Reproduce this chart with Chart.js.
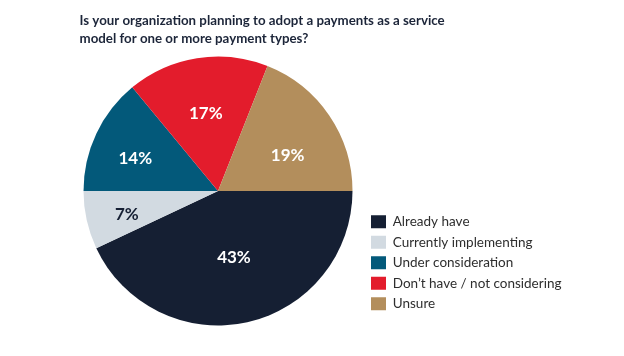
<!DOCTYPE html>
<html>
<head>
<meta charset="utf-8">
<script src="https://cdn.jsdelivr.net/npm/chart.js@4.4.1/dist/chart.umd.min.js"></script>
<style>
  html, body { margin: 0; padding: 0; background: #ffffff; }
  #wrap { position: relative; width: 624px; height: 356px; }
  canvas { display: block; }
</style>
</head>
<body>
<div id="wrap"><canvas id="c" width="624" height="356"></canvas></div>
<script>
// ---- data ----
const titleLines = [
  "Is your organization planning to adopt a payments as a service",
  "model for one or more payment types?"
];
const categories = [
  "Already have",
  "Currently implementing",
  "Under consideration",
  "Don\u2019t have / not considering",
  "Unsure"
];
const shares = [43, 7, 14, 17, 19];

// ---- styles ----
const sliceColors = ["#151f33", "#d2dae1", "#03597a", "#e31c2c", "#b38e5c"];
const labelColors = ["#ffffff", "#151f33", "#ffffff", "#ffffff", "#ffffff"];
const labelRadiusFrac = [0.505, 0.70, 0.66, 0.58, 0.58];
const labelAngleShiftDeg = [-1, -2, -4, 0, 7.5];

const FONT_FAMILY = 'Lato, "Open Sans", sans-serif';
const LEGEND_FONT_SIZE = 13.5;
const LEGEND_PAD = 7;
const BOX_W = 15;

// legend placement: boxes should start at x = 371
const measureCtx = document.createElement('canvas').getContext('2d');
measureCtx.font = LEGEND_FONT_SIZE + 'px ' + FONT_FAMILY;
const maxTextW = Math.max(...categories.map(t => measureCtx.measureText(t).width));
const legendW = LEGEND_PAD + BOX_W + LEGEND_FONT_SIZE / 2 + maxTextW + 10;
const legendLeft = 371 - LEGEND_PAD;
const padRight = 624 - legendLeft - legendW;
const padLeft = 2 * 218 - legendLeft;

const titlePlugin = {
  id: 'customTitle',
  afterDraw(chart) {
    const ctx = chart.ctx;
    ctx.save();
    ctx.fillStyle = '#1c2539';
    ctx.font = 'bold 13.3px ' + FONT_FAMILY;
    ctx.textAlign = 'left';
    ctx.textBaseline = 'alphabetic';
    ctx.fillText(titleLines[0], 79.5, 24.7);
    ctx.fillText(titleLines[1], 79.5, 42.5);
    ctx.restore();
  }
};

const sliceLabelPlugin = {
  id: 'sliceLabels',
  afterDatasetsDraw(chart) {
    const ctx = chart.ctx;
    const meta = chart.getDatasetMeta(0);
    ctx.save();
    ctx.font = 'bold 17px ' + FONT_FAMILY;
    ctx.textAlign = 'center';
    ctx.textBaseline = 'middle';
    meta.data.forEach((arc, i) => {
      const p = arc.getProps(['x', 'y', 'startAngle', 'endAngle', 'outerRadius'], true);
      const mid = (p.startAngle + p.endAngle) / 2 + labelAngleShiftDeg[i] * Math.PI / 180;
      const r = p.outerRadius * labelRadiusFrac[i];
      ctx.fillStyle = labelColors[i];
      ctx.fillText(shares[i] + '%', p.x + Math.cos(mid) * r, p.y + Math.sin(mid) * r);
    });
    ctx.restore();
  }
};

new Chart(document.getElementById('c'), {
  type: 'pie',
  data: {
    labels: categories,
    datasets: [{
      data: shares,
      backgroundColor: sliceColors,
      borderWidth: 0,
      radius: 134.5
    }]
  },
  options: {
    responsive: false,
    animation: false,
    rotation: 90,
    layout: { padding: { left: padLeft, right: padRight, top: 64.5, bottom: 38.5 } },
    plugins: {
      title: { display: false },
      tooltip: { enabled: false },
      legend: {
        display: true,
        position: 'right',
        align: 'end',
        labels: {
          boxWidth: BOX_W,
          boxHeight: 13,
          padding: LEGEND_PAD,
          color: '#2e2e2e',
          font: { family: FONT_FAMILY, size: LEGEND_FONT_SIZE }
        }
      }
    }
  },
  plugins: [titlePlugin, sliceLabelPlugin]
});
</script>
</body>
</html>
